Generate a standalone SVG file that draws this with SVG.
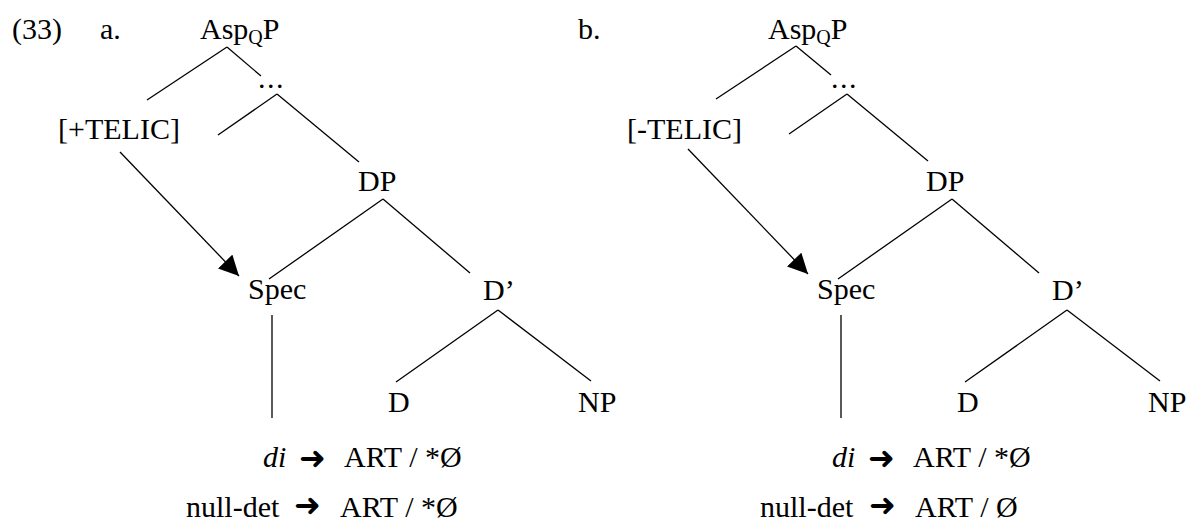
<svg xmlns="http://www.w3.org/2000/svg" width="1190" height="524" viewBox="0 0 1190 524">
  <defs>
    <style>
      text { font-family: "Liberation Serif", "Times New Roman", serif; font-size: 30px; fill: #000; }
      .sub { font-size: 20px; }
      .it { font-style: italic; }
      .arr { font-family: "DejaVu Sans", sans-serif; font-size: 32px; }
      .edge { stroke: #000; stroke-width: 1.3; fill: none; }
    </style>
    <marker id="head" viewBox="0 0 10 10" refX="10" refY="5" markerWidth="20" markerHeight="20" markerUnits="userSpaceOnUse" orient="auto">
      <path d="M0,0 L10,5 L0,10 Z" fill="#000"/>
    </marker>
  </defs>
  <rect width="1190" height="524" fill="#fff"/>

  <!-- example number and labels -->
  <g id="label-33"><text x="12" y="39">(33)</text></g>
  <g id="label-a"><text x="100" y="39">a.</text></g>
  <g id="label-b"><text x="578" y="39">b.</text></g>

  <!-- tree a -->
  <g id="a-aspqp"><text x="200" y="39">Asp<tspan class="sub" dy="5">Q</tspan><tspan dy="-5">P</tspan></text></g>
  <g id="a-dots"><text x="258" y="88" letter-spacing="1.5">...</text></g>
  <g id="a-telic"><text x="58" y="139">[+TELIC]</text></g>
  <g id="a-dp"><text x="358" y="191">DP</text></g>
  <g id="a-spec"><text x="248" y="299">Spec</text></g>
  <g id="a-dbar"><text x="483" y="300">D’</text></g>
  <g id="a-d"><text x="388" y="412">D</text></g>
  <g id="a-np"><text x="578" y="412">NP</text></g>
  <g id="a-rule1"><text x="263" y="467" class="it">di</text><text x="299" y="469" class="arr">➜</text><text x="344" y="467">ART / *Ø</text></g>
  <g id="a-rule2"><text x="186" y="517">null-det</text><text x="294" y="516" class="arr">➜</text><text x="340" y="517">ART / *Ø</text></g>

  <!-- tree b -->
  <g id="b-aspqp"><text x="768" y="39">Asp<tspan class="sub" dy="5">Q</tspan><tspan dy="-5">P</tspan></text></g>
  <g id="b-dots"><text x="831" y="88" letter-spacing="1.5">...</text></g>
  <g id="b-telic"><text x="627" y="139">[-TELIC]</text></g>
  <g id="b-dp"><text x="926" y="191">DP</text></g>
  <g id="b-spec"><text x="817" y="299">Spec</text></g>
  <g id="b-dbar"><text x="1052" y="300">D’</text></g>
  <g id="b-d"><text x="957" y="412">D</text></g>
  <g id="b-np"><text x="1148" y="412">NP</text></g>
  <g id="b-rule1"><text x="832" y="467" class="it">di</text><text x="868" y="469" class="arr">➜</text><text x="913" y="467">ART / *Ø</text></g>
  <g id="b-rule2"><text x="760" y="517">null-det</text><text x="869" y="516" class="arr">➜</text><text x="915" y="517">ART / Ø</text></g>

  <!-- branches and the feature-checking arrows -->
  <g id="connectors" class="edge">
    <line x1="227" y1="47" x2="147" y2="100"/>
    <line x1="227" y1="47" x2="261" y2="76"/>
    <line x1="277" y1="94" x2="218" y2="135"/>
    <line x1="277" y1="94" x2="359" y2="162"/>
    <line x1="383" y1="199" x2="269" y2="279"/>
    <line x1="383" y1="199" x2="470" y2="273"/>
    <line x1="498" y1="310" x2="396" y2="382"/>
    <line x1="498" y1="310" x2="591" y2="381"/>
    <line x1="272" y1="315" x2="272" y2="418"/>
    <line x1="120" y1="152" x2="239" y2="276" marker-end="url(#head)"/>

    <line x1="796" y1="46" x2="716" y2="99"/>
    <line x1="796" y1="46" x2="831" y2="75"/>
    <line x1="847" y1="94" x2="789" y2="134"/>
    <line x1="847" y1="94" x2="928" y2="161"/>
    <line x1="952" y1="199" x2="838" y2="279"/>
    <line x1="952" y1="199" x2="1039" y2="273"/>
    <line x1="1067" y1="310" x2="965" y2="382"/>
    <line x1="1067" y1="310" x2="1160" y2="381"/>
    <line x1="841" y1="315" x2="841" y2="418"/>
    <line x1="688" y1="149" x2="808" y2="274" marker-end="url(#head)"/>
  </g>
</svg>
